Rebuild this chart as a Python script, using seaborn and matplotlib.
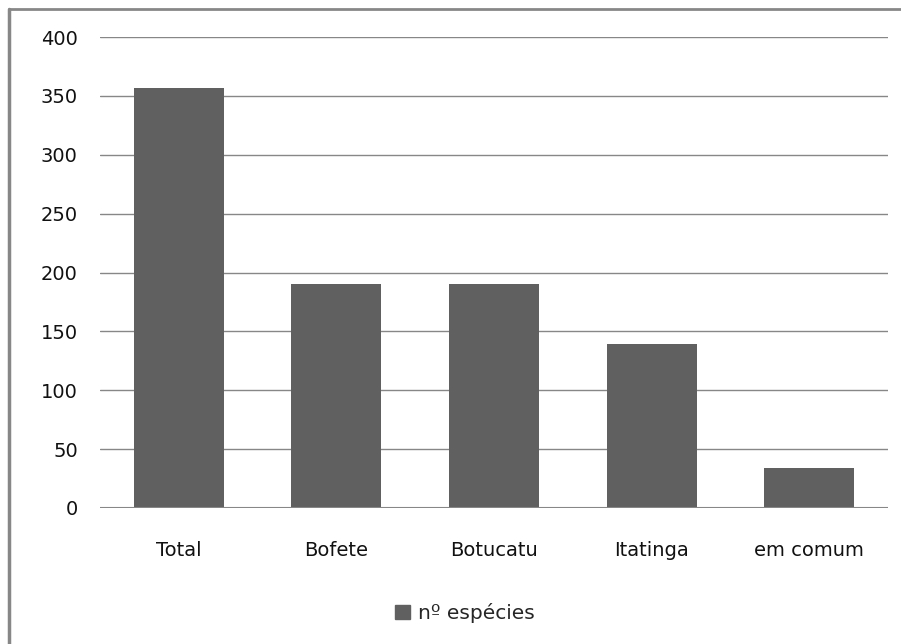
import pandas as pd
import matplotlib
matplotlib.use("Agg")
import matplotlib.pyplot as plt
import matplotlib.lines as mlines
import matplotlib.patches as mpatches
import seaborn as sns

# Data
categories = ["Total", "Bofete", "Botucatu", "Itatinga", "em comum"]
species = [357, 190, 190, 139, 34]

df = pd.DataFrame({"local": categories, "n_especies": species})

sns.set_style("white")
plt.rcParams["font.family"] = ["DejaVu Sans"]

fig = plt.figure(figsize=(9.01, 6.44), dpi=100)
ax = fig.add_axes([0.111, 0.2112, 0.8746, 0.7313])

sns.barplot(data=df, x="local", y="n_especies", color="#606060",
            saturation=1, width=0.57, linewidth=0, edgecolor="#606060", ax=ax)

ax.set_ylim(0, 400)
ax.set_xlim(-0.5, 4.5)
ax.set_yticks(range(0, 401, 50))
ax.yaxis.grid(True, color="#878787", linewidth=1.0)
ax.set_axisbelow(True)
for s in ax.spines.values():
    s.set_visible(False)
ax.axhline(0, color="#878787", linewidth=1.5, zorder=3)
ax.tick_params(axis="both", length=0, labelsize=14, labelcolor="#111111")
ax.tick_params(axis="x", pad=24)
ax.tick_params(axis="y", pad=16)
ax.set_xlabel("")
ax.set_ylabel("")

# legend
handle = mpatches.Patch(color="#606060", label="nº espécies")
fig.legend(handles=[handle], loc="center", bbox_to_anchor=(0.516, 0.048),
           frameon=False, fontsize=14.5, handlelength=0.7, handleheight=0.7,
           handletextpad=0.4)

# outer border (left and top edges visible)
fig.add_artist(mlines.Line2D([0.0105, 0.0105], [0, 0.986], color="#878787",
                             linewidth=2.5, transform=fig.transFigure))
fig.add_artist(mlines.Line2D([0.0105, 1.0], [0.986, 0.986], color="#878787",
                             linewidth=2.0, transform=fig.transFigure))

fig.savefig("out.png", dpi=100, facecolor="white")
